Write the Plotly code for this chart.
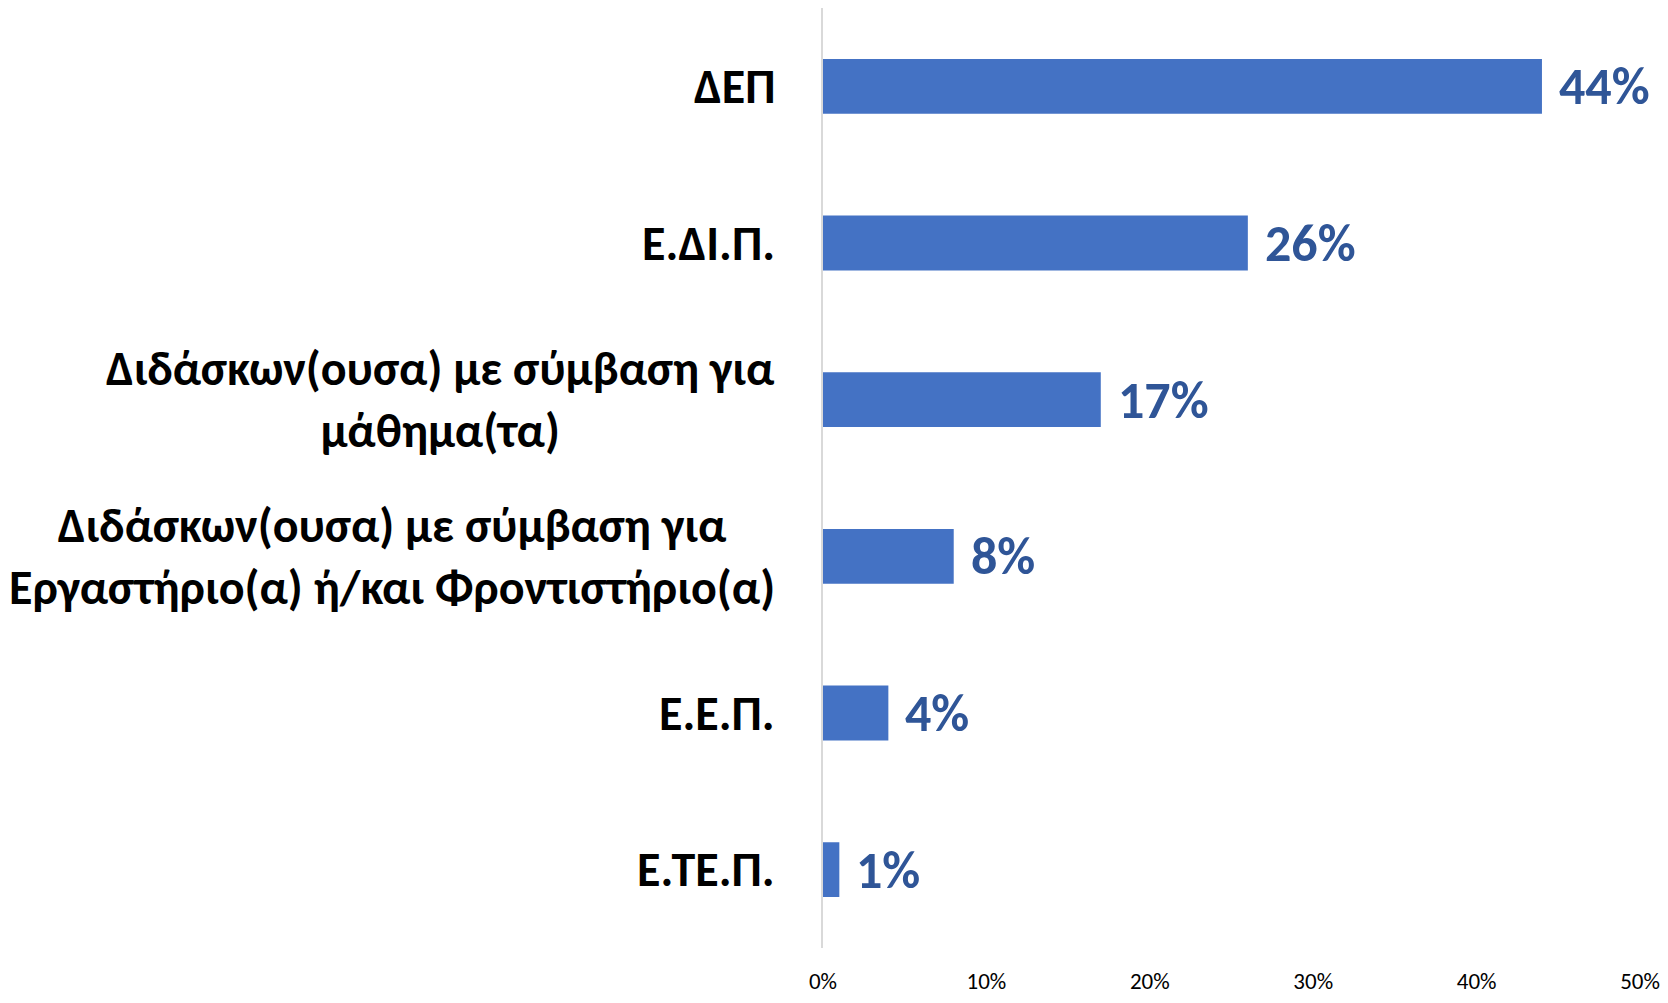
import plotly.graph_objects as go

categories = [
    "ΔΕΠ",
    "Ε.ΔΙ.Π.",
    "Διδάσκων(ουσα) με σύμβαση για<br>μάθημα(τα)",
    "Διδάσκων(ουσα) με σύμβαση για<br>Εργαστήριο(α) ή/και Φροντιστήριο(α)",
    "Ε.Ε.Π.",
    "Ε.ΤΕ.Π.",
]
values = [0.44, 0.26, 0.17, 0.08, 0.04, 0.01]
value_labels = ["44%", "26%", "17%", "8%", "4%", "1%"]
tick_vals = [0, 0.1, 0.2, 0.3, 0.4, 0.5]
tick_text = ["0%", "10%", "20%", "30%", "40%", "50%"]

FONT = "Carlito, Lato, sans-serif"

fig = go.Figure()
fig.add_trace(go.Bar(
    x=values, y=categories, orientation="h",
    marker=dict(color="#4472C4", line=dict(width=0)),
    width=0.35, hoverinfo="skip",
))

for cat, v, lab in zip(categories, values, value_labels):
    fig.add_annotation(
        x=v, y=cat, xref="x", yref="y", text="<b>" + lab + "</b>",
        showarrow=False, xanchor="left", yanchor="middle", xshift=15,
        font=dict(family=FONT, size=52, color="#2F5597"),
    )
    fig.add_annotation(
        x=0, y=cat, xref="paper", yref="y", text="<b>" + cat + "</b>",
        showarrow=False, xanchor="right", yanchor="middle", xshift=-46,
        align="center",
        font=dict(family=FONT, size=48, color="#000000"),
    )

fig.update_layout(
    width=1668, height=1003,
    margin=dict(l=823, r=27, t=8, b=42),
    paper_bgcolor="white", plot_bgcolor="white",
    showlegend=False,
    xaxis=dict(
        range=[0, 0.5], tickvals=tick_vals, ticktext=tick_text,
        showgrid=False, zeroline=False, showline=False, ticks="",
        ticklabelstandoff=17,
        tickfont=dict(family=FONT, size=23, color="#000000"),
        fixedrange=True,
    ),
    yaxis=dict(
        autorange="reversed", showticklabels=False, showgrid=False,
        zeroline=False, showline=True, linecolor="#D9D9D9", linewidth=2,
        ticks="", fixedrange=True,
    ),
)

fig.write_html("out.html", post_script="document.body.style.margin='0';",
               config={"displayModeBar": False})
